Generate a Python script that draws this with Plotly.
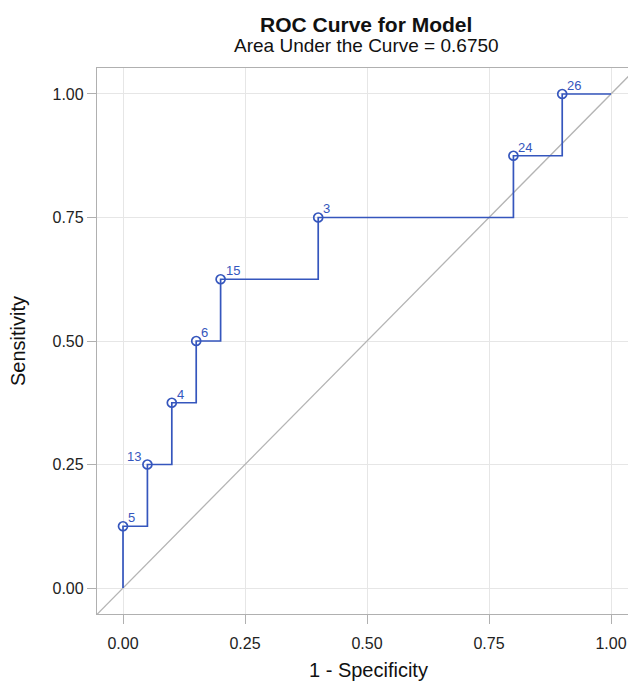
import plotly.graph_objects as go

# ROC step path (1 - specificity, sensitivity)
fpr = [0.00, 0.00, 0.05, 0.05, 0.10, 0.10, 0.15, 0.15, 0.20, 0.20, 0.40, 0.40, 0.80, 0.80, 0.90, 0.90, 1.00]
tpr = [0.000, 0.125, 0.125, 0.250, 0.250, 0.375, 0.375, 0.500, 0.500, 0.625, 0.625, 0.750, 0.750, 0.875, 0.875, 1.000, 1.000]

# labelled cutpoints
pt_x = [0.00, 0.05, 0.10, 0.15, 0.20, 0.40, 0.80, 0.90]
pt_y = [0.125, 0.250, 0.375, 0.500, 0.625, 0.750, 0.875, 1.000]
pt_lab = ["5", "13", "4", "6", "15", "3", "24", "26"]
pt_side = ["right", "left", "right", "right", "right", "right", "right", "right"]

tick_vals = [0.0, 0.25, 0.5, 0.75, 1.0]
tick_text = ["0.00", "0.25", "0.50", "0.75", "1.00"]

blue = "#3556bd"
font = "Liberation Sans, Arial, sans-serif"

# visible page area is inset by the 8px body margin
W, H = 620, 674
pl, pr, pt, pb = 89, 0, 60, 68
pw, ph = W - pl - pr, H - pt - pb


def px_to_paper(px, py):
    return (px - pl) / pw, (H - pb - py) / ph


fig = go.Figure()
fig.add_trace(go.Scatter(x=[-0.1, 1.1], y=[-0.1, 1.1], mode="lines",
                         line=dict(color="#b4b4b4", width=1.3), hoverinfo="skip"))
fig.add_trace(go.Scatter(x=fpr, y=tpr, mode="lines", line=dict(color=blue, width=1.7)))
fig.add_trace(go.Scatter(x=pt_x, y=pt_y, mode="markers",
                         marker=dict(symbol="circle-open", size=9, color=blue,
                                     line=dict(color=blue, width=1.7))))

for x, y, lab, side in zip(pt_x, pt_y, pt_lab, pt_side):
    fig.add_annotation(x=x, y=y, text=lab, showarrow=False,
                       xanchor="left" if side == "right" else "right", yanchor="bottom",
                       xshift=3 if side == "right" else -4, yshift=-1,
                       font=dict(color=blue, size=13, family=font))

axis_common = dict(
    tickvals=tick_vals, ticktext=tick_text, showgrid=True, gridcolor="#e6e6e6", gridwidth=1,
    zeroline=False, showline=True, linecolor="#b0b0b0", linewidth=1.3, mirror=True,
    ticks="outside", ticklen=9, tickcolor="#b0b0b0", tickwidth=1,
    tickfont=dict(size=16, color="#222", family=font), automargin=False,
)
fig.update_xaxes(range=[-0.0533, 1.0348], ticklabelstandoff=6, **axis_common)
fig.update_yaxes(range=[-0.0526, 1.0526], **axis_common)

fig.update_layout(
    width=W, height=H, showlegend=False,
    plot_bgcolor="white", paper_bgcolor="white",
    margin=dict(l=pl, r=pr, t=pt, b=pb),
    font=dict(family=font),
)

texts = [
    ("<b>ROC Curve for Model</b>", 358, 16, 21, 0),
    ("Area Under the Curve = 0.6750", 358, 38, 19, 0),
    ("1 - Specificity", 360, 662, 20, 0),
    ("Sensitivity", 10, 333, 20, -90),
]
for txt, px, py, size, ang in texts:
    ax_, ay_ = px_to_paper(px, py)
    fig.add_annotation(text=txt, x=ax_, y=ay_, xref="paper", yref="paper",
                       xanchor="center", yanchor="middle", textangle=ang,
                       showarrow=False, font=dict(size=size, color="#111", family=font))

fig.write_html("out.html")
